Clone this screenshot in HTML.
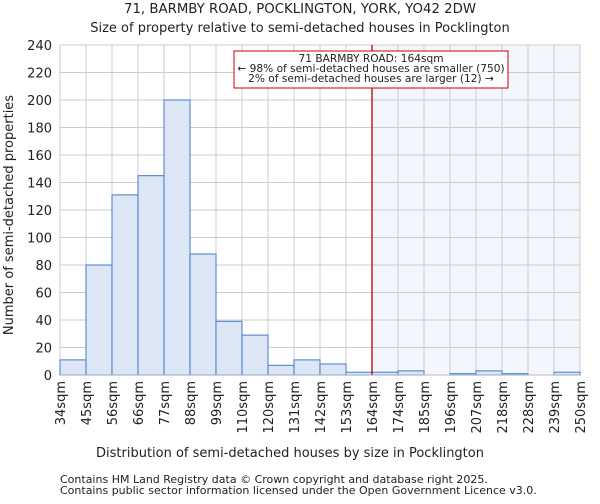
<!DOCTYPE html>
<html><head><meta charset="utf-8"><style>
body{margin:0;background:#fff;font-family:"DejaVu Sans","Liberation Sans",sans-serif}
svg text{font-family:"DejaVu Sans","Liberation Sans",sans-serif;fill:#222}
</style></head><body>
<svg id="c" width="600" height="500">
<text x="300" y="13" text-anchor="middle" font-size="13.3">71, BARMBY ROAD, POCKLINGTON, YORK, YO42 2DW</text>
<text x="300" y="32" text-anchor="middle" font-size="13">Size of property relative to semi-detached houses in Pocklington</text>
<g id="plot"></g>
<text x="290" y="457" text-anchor="middle" font-size="13">Distribution of semi-detached houses by size in Pocklington</text>
<text transform="translate(13,215) rotate(-90)" text-anchor="middle" font-size="13">Number of semi-detached properties</text>
<text x="60" y="483" font-size="11">Contains HM Land Registry data © Crown copyright and database right 2025.</text>
<text x="60" y="494" font-size="11">Contains public sector information licensed under the Open Government Licence v3.0.</text>
</svg>
<script>
const labels=["34sqm","45sqm","56sqm","66sqm","77sqm","88sqm","99sqm","110sqm","120sqm","131sqm","142sqm","153sqm","164sqm","174sqm","185sqm","196sqm","207sqm","218sqm","228sqm","239sqm","250sqm"];
const counts=[11,80,131,145,200,88,39,29,7,11,8,2,2,3,0,1,3,1,0,2];
const yTicks=[0,20,40,60,80,100,120,140,160,180,200,220,240];
const markerBin=12;
const L=60,R=580,T=45,B=375,yMax=240;
const bw=(R-L)/counts.length;
const x=i=>L+i*bw;
const y=v=>B-v/yMax*(B-T);
const ns="http://www.w3.org/2000/svg";
const g=document.getElementById('plot');
function mk(t,a){const e=document.createElementNS(ns,t);for(const k in a)e.setAttribute(k,a[k]);g.appendChild(e);return e;}
let e=mk('rect',{x:x(markerBin),y:T,width:R-x(markerBin),height:B-T,fill:'#f3f6fd'});


yTicks.forEach(v=>{
 let l=mk('line',{x1:L,x2:R,y1:y(v),y2:y(v),stroke:'#ccc','stroke-width':1});
 
 
 let t=mk('text',{x:L-8,y:y(v)+5,'text-anchor':'end','font-size':13});
 t.textContent=v;
 
 
});
labels.forEach((s,i)=>{
 let l=mk('line',{x1:x(i),x2:x(i),y1:T,y2:B,stroke:'#ccc','stroke-width':1});
 
 
 let t=mk('text',{transform:`translate(${x(i)+5},${B+6}) rotate(-90)`,'text-anchor':'end','font-size':13});
 t.textContent=s;
 
 
});
counts.forEach((v,i)=>{
 if(v<=0)return;
 let r=mk('rect',{x:x(i),y:y(v),width:bw,height:B-y(v),fill:'#dce6f4',stroke:'#5b8fd6','stroke-width':1.2});
 
 
});
let m=mk('line',{x1:x(markerBin),x2:x(markerBin),y1:T,y2:B,stroke:'#b00','stroke-width':1.3});


let ax=mk('line',{x1:L,x2:R,y1:B,y2:B,stroke:'#bbb'});


let bx=mk('rect',{x:234,y:51,width:274,height:37,fill:'#fff',stroke:'#c00','stroke-width':1});


["71 BARMBY ROAD: 164sqm","← 98% of semi-detached houses are smaller (750)","2% of semi-detached houses are larger (12) →"].forEach((s,i)=>{
 let t=mk('text',{x:371,y:62+i*10,'text-anchor':'middle','font-size':10.6});
 t.textContent=s;
 
 
});
</script>
</body></html>
